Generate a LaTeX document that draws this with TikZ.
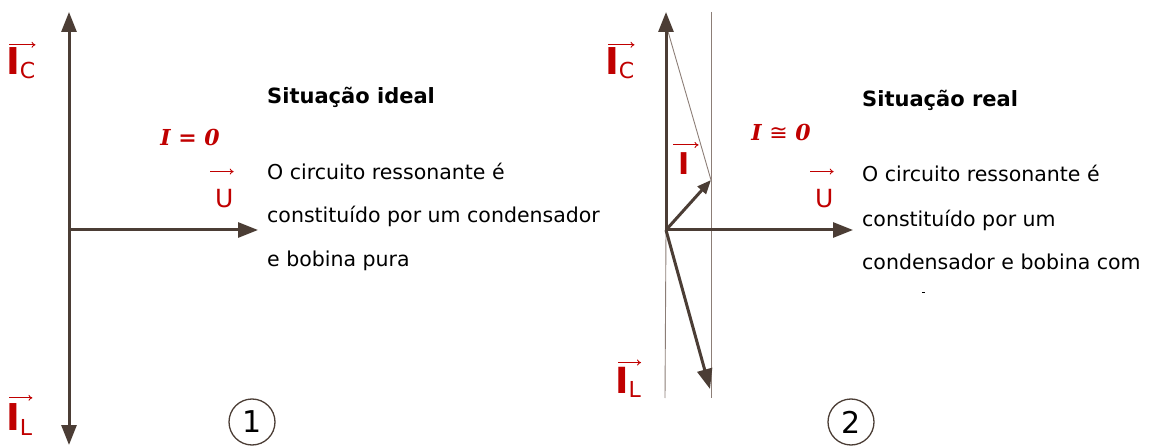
\documentclass[tikz,border=0pt]{standalone}
\usepackage{fontspec}
\setmainfont{DejaVu Sans}
\newfontfamily\eqfont{DejaVu Serif}
\newfontfamily\symfont{DejaVu Sans}
\usetikzlibrary{positioning,arrows.meta}
\definecolor{phbrown}{HTML}{4B3D35}
\definecolor{phthin}{HTML}{8C7E77}
\definecolor{phred}{HTML}{C00000}

\begin{document}
\begin{tikzpicture}[x=1pt,y=-1pt,
    axis/.style={phbrown, line width=3pt, -{Triangle[length=20pt,width=15pt]}},
    small axis/.style={phbrown, line width=3pt, -{Triangle[length=14pt,width=11pt]}},
    guide/.style={phthin, line width=0.9pt},
    vecarrow/.style={phred, line width=0.9pt, -{To[length=4pt,width=6pt]}},
    biglabel/.style={phred, inner sep=0pt, anchor=base west},
    body/.style={inner sep=0pt, anchor=base west, font=\fontsize{20.5}{20.5}\selectfont},
    headline/.style={inner sep=0pt, anchor=base west, font=\fontsize{21}{21}\selectfont\bfseries},
    formula/.style={phred, inner sep=0pt, font=\fontsize{22}{22}\eqfont\bfseries\itshape},
    number/.style={draw=phbrown, line width=1.3pt, circle, minimum size=46pt, inner sep=0pt,
      font=\fontsize{30}{30}\selectfont}]
  \useasboundingbox (0,0) rectangle (1149,446);

  % ---- situacao ideal ----
  \coordinate (O1) at (69,230);
  \coordinate (up1) at (69,12);
  \coordinate (down1) at (69,445);
  \coordinate (right1) at (258,230);
  \draw[axis] (O1) -- (up1);
  \draw[axis] (O1) -- (down1);
  \draw[axis] (O1) -- (right1);

  \node[biglabel] (ic1) at (6,75) {\fontsize{37}{37}\selectfont\bfseries I\raisebox{-4pt}{\fontsize{22}{22}\mdseries\selectfont C}};
  \node[biglabel] (il1) at (6,430) {\fontsize{37}{37}\selectfont\bfseries I\raisebox{-5pt}{\fontsize{22}{22}\mdseries\selectfont L}};
  \node[biglabel] (u1) at (215,208) {\fontsize{25}{25}\selectfont U};
  \draw[vecarrow] ([xshift=3pt,yshift=3pt]ic1.north west) -- ([yshift=3pt]ic1.north east);
  \draw[vecarrow] ([xshift=3pt,yshift=5pt]il1.north west) -- ([yshift=5pt]il1.north east);
  \draw[vecarrow] ([xshift=-5pt,yshift=18pt]u1.north west) -- ([yshift=18pt]u1.north east);

  \node[formula] (eq1) at (190,137) {I = 0};

  \node[headline] (title1) at (267,104) {Situação ideal};
  \node[body] (a1) at (267,180) {O circuito ressonante é};
  \node[body] (b1) at (267,223) {constituído por um condensador};
  \node[body] (c1) at (267,267) {e bobina pura};

  \node[number] (n1) at (252,422) {1};

  % ---- situacao real ----
  \coordinate (O2) at (666,230);
  \coordinate (up2) at (666,12);
  \coordinate (right2) at (853,230);
  \coordinate (itip) at (711,180);
  \coordinate (iltip) at (710,389);
  \coordinate (ictop) at (667,28);
  \coordinate (gl) at (665,398);
  \coordinate (grt) at (711,12);
  \coordinate (grb) at (711,398);
  \draw[guide] (O2) -- (gl);
  \draw[guide] (grt) -- (grb);
  \draw[guide] (ictop) -- (itip);
  \draw[axis] (O2) -- (up2);
  \draw[axis] (O2) -- (right2);
  \draw[small axis] (O2) -- (itip);
  \draw[axis] (O2) -- (iltip);

  \node[biglabel] (ic2) at (605,75) {\fontsize{37}{37}\selectfont\bfseries I\raisebox{-4pt}{\fontsize{22}{22}\mdseries\selectfont C}};
  \node[biglabel] (il2) at (615,393) {\fontsize{36}{36}\selectfont\bfseries I\raisebox{-4pt}{\fontsize{22}{22}\mdseries\selectfont L}};
  \node[biglabel] (i2) at (678,175) {\fontsize{30}{30}\selectfont\bfseries I};
  \node[biglabel] (u2) at (815,208) {\fontsize{25}{25}\selectfont U};
  \draw[vecarrow] ([xshift=3pt,yshift=3pt]ic2.north west) -- ([yshift=3pt]ic2.north east);
  \draw[vecarrow] ([xshift=3pt,yshift=4pt]il2.north west) -- ([yshift=4pt]il2.north east);
  \draw[vecarrow] ([xshift=-5pt,yshift=8pt]i2.north west) -- ([xshift=9pt,yshift=8pt]i2.north east);
  \draw[vecarrow] ([xshift=-5pt,yshift=18pt]u2.north west) -- ([yshift=18pt]u2.north east);

  \node[formula] (eq2) at (781,132) {I {\symfont\upshape\mdseries ≅} 0};

  \node[headline] (title2) at (862,107) {Situação real};
  \node[body] (a2) at (862,182) {O circuito ressonante é};
  \node[body] (b2) at (862,227) {constituído por um};
  \node[body] (c2) at (862,270) {condensador e bobina com};
  \draw[line width=1pt] (922,293) -- (925,293);

  \node[number] (n2) at (851,422) {2};
\end{tikzpicture}
\end{document}
